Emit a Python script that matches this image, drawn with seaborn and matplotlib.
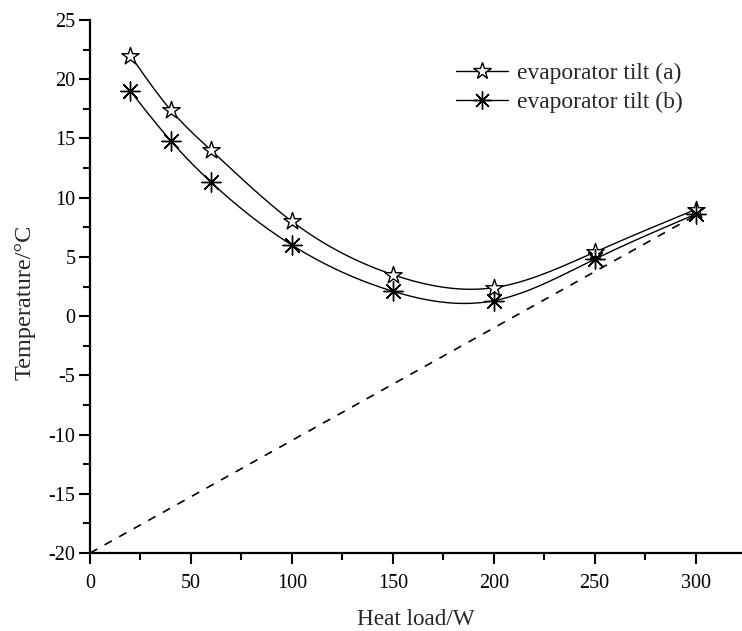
import numpy as np
import pandas as pd
import matplotlib
matplotlib.use("Agg")
import matplotlib.pyplot as plt
from matplotlib.lines import Line2D
from matplotlib.ticker import MultipleLocator
import seaborn as sns

# data
heat_load = [20, 40, 60, 100, 150, 200, 250, 300]
temp_a = [22.0, 17.4, 14.0, 8.0, 3.5, 2.4, 5.4, 9.0]
temp_b = [19.0, 14.8, 11.3, 6.0, 2.1, 1.3, 4.8, 8.6]
ref_x = [0, 300]
ref_y = [-20.0, 8.5]
labels = ["evaporator tilt (a)", "evaporator tilt (b)"]


def natural_spline(x, y, n=300):
    # plain natural cubic spline, only for drawing the smooth connecting line
    x = np.asarray(x, float)
    y = np.asarray(y, float)
    k = len(x)
    h = np.diff(x)
    A = np.zeros((k, k))
    r = np.zeros(k)
    A[0, 0] = A[-1, -1] = 1
    for i in range(1, k - 1):
        A[i, i - 1] = h[i - 1]
        A[i, i] = 2 * (h[i - 1] + h[i])
        A[i, i + 1] = h[i]
        r[i] = 3 * ((y[i + 1] - y[i]) / h[i] - (y[i] - y[i - 1]) / h[i - 1])
    c = np.linalg.solve(A, r)
    xs = np.linspace(x[0], x[-1], n)
    idx = np.clip(np.searchsorted(x, xs) - 1, 0, k - 2)
    dx = xs - x[idx]
    b = (y[1:] - y[:-1]) / h - h * (2 * c[:-1] + c[1:]) / 3
    d = (c[1:] - c[:-1]) / (3 * h)
    ys = y[idx] + b[idx] * dx + c[idx] * dx ** 2 + d[idx] * dx ** 3
    return xs, ys


sns.set_theme(style="ticks")
plt.rcParams["font.family"] = ["Liberation Serif", "DejaVu Serif"]
plt.rcParams["axes.unicode_minus"] = False

fig = plt.figure(figsize=(7.42, 6.31), dpi=100)
ax = fig.add_axes([0.1213, 0.1236, 0.8787, 0.8447])

star_mk = "*"
ast_mk = (8, 2, 0)

for ys in [temp_a, temp_b]:
    sx, sy = natural_spline(heat_load, ys)
    sns.lineplot(x=sx, y=sy, ax=ax, color="black", linewidth=1.0, sort=False)

sns.scatterplot(x=heat_load, y=temp_a, ax=ax, marker=star_mk, s=170,
                facecolor="white", edgecolor="black", linewidth=1.0, zorder=3)
sns.scatterplot(x=heat_load, y=temp_b, ax=ax, marker=ast_mk, s=190,
                color="black", linewidth=1.0, zorder=3)

sns.lineplot(x=ref_x, y=ref_y, ax=ax, color="black", linewidth=1.2,
             linestyle=(0, (5, 5)))

ax.set_xlim(0, 323)
ax.set_ylim(-20, 25)
ax.xaxis.set_major_locator(MultipleLocator(50))
ax.xaxis.set_minor_locator(MultipleLocator(25))
ax.yaxis.set_major_locator(MultipleLocator(5))
ax.yaxis.set_minor_locator(MultipleLocator(2.5))
ax.tick_params(which="major", direction="out", length=8, width=1.5,
               labelsize=14.5, color="black", labelcolor="black")
ax.tick_params(which="minor", direction="out", length=5, width=1.5,
               color="black")
ax.tick_params(axis="x", which="major", pad=7)
ax.tick_params(axis="y", which="major", pad=2.5)
sns.despine(ax=ax)
for s in ["left", "bottom"]:
    ax.spines[s].set_linewidth(1.6)
    ax.spines[s].set_color("black")

ax.set_xlabel("Heat load/W", fontsize=16.7)
ax.xaxis.set_label_coords(0.5, -0.105)
ax.set_ylabel("Temperature/\u00b0C", fontsize=17.5)
ax.yaxis.set_label_coords(-0.083, 0.471)

handles = [
    Line2D([], [], color="black", linewidth=1.0, marker=star_mk,
           markersize=13, markerfacecolor="white", markeredgecolor="black"),
    Line2D([], [], color="black", linewidth=1.0, marker=ast_mk,
           markersize=13, markeredgecolor="black"),
]
ax.legend(handles, labels, loc="upper left", bbox_to_anchor=(0.539, 0.946),
          frameon=False, fontsize=16.9, handlelength=2.25, handletextpad=0.38,
          labelspacing=0.3, borderaxespad=0.2)

fig.savefig("out.png", dpi=100)
